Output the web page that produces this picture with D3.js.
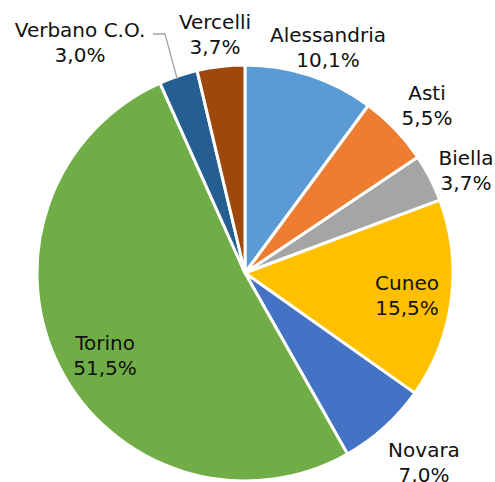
<!DOCTYPE html>
<html>
<head>
<meta charset="utf-8">
<script src="https://cdn.jsdelivr.net/npm/d3@7"></script>
<style>
  body { margin: 0; background: #fff; }
  svg { display: block; }
</style>
</head>
<body>
<div id="chart"></div>
<script>
const provinces = ["Alessandria", "Asti", "Biella", "Cuneo", "Novara", "Torino", "Verbano C.O.", "Vercelli"];
const shares = [10.1, 5.5, 3.7, 15.5, 7.0, 51.5, 3.0, 3.7];
const shareLabels = ["10,1%", "5,5%", "3,7%", "15,5%", "7,0%", "51,5%", "3,0%", "3,7%"];

const sliceColors = ["#5B9BD5", "#ED7D31", "#A5A5A5", "#FFC000", "#4472C4", "#70AD47", "#255E91", "#9E480E"];

// where excel put each label (centre x, first baseline)
const labelSpots = [[328, 42], [427, 100], [466, 165], [407, 290], [424, 457], [105, 350], [80, 37], [215, 29]];

const width = 495, height = 482;
const cx = 245, cy = 273, radius = 208;

const svg = d3.select("#chart").append("svg")
  .attr("width", width)
  .attr("height", height);

const pie = d3.pie().sort(null).value(d => d);
const arcs = pie(shares);

const arc = d3.arc().innerRadius(0).outerRadius(radius);

const g = svg.append("g").attr("transform", `translate(${cx},${cy})`);

g.selectAll("path")
  .data(arcs)
  .enter().append("path")
  .attr("d", arc)
  .attr("fill", (d, i) => sliceColors[i])
  .attr("stroke", "#fff")
  .attr("stroke-width", 3)
  .attr("stroke-linejoin", "round");

// leader line for Verbano C.O.
const vb = arcs[6];
const mid = (vb.startAngle + vb.endAngle) / 2;
const edge = [cx + radius * Math.sin(mid), cy - radius * Math.cos(mid)];
svg.append("polyline")
  .attr("points", `153,34 165,34 ${edge[0] - 1},${edge[1] + 3}`)
  .attr("fill", "none")
  .attr("stroke", "#A6A6A6")
  .attr("stroke-width", 1.3);

const labels = svg.selectAll("text.lab")
  .data(provinces)
  .enter().append("text")
  .attr("class", "lab")
  .attr("text-anchor", "middle")
  .style("font-family", "Verdana, 'DejaVu Sans', sans-serif")
  .style("font-size", "20px")
  .style("fill", "#111");

labels.append("tspan")
  .attr("x", (d, i) => labelSpots[i][0])
  .attr("y", (d, i) => labelSpots[i][1])
  .text(d => d);

labels.append("tspan")
  .attr("x", (d, i) => labelSpots[i][0])
  .attr("y", (d, i) => labelSpots[i][1] + 25)
  .text((d, i) => shareLabels[i]);
</script>
</body>
</html>
